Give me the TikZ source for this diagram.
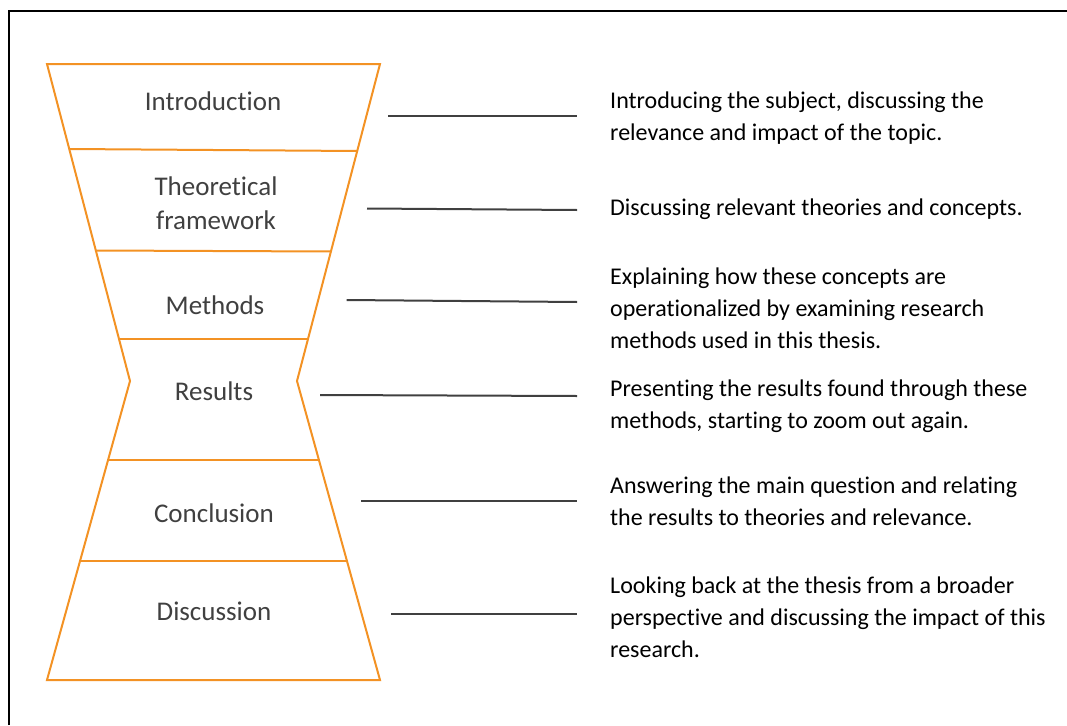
\documentclass[tikz,border=0pt]{standalone}
\usepackage{fontspec}
\setmainfont{Carlito}[Ligatures=NoCommon]
\definecolor{funnelorange}{RGB}{243,146,36}
\definecolor{stagegray}{RGB}{64,64,64}
\definecolor{linkgray}{RGB}{64,64,64}
\begin{document}
\begin{tikzpicture}[x=1pt,y=-1pt,
  funnel/.style={draw=funnelorange,line width=2pt,line join=miter},
  divider/.style={draw=funnelorange,line width=2pt},
  stage/.style={font=\fontsize{27}{34}\selectfont,text=stagegray,align=center,inner sep=0pt},
  note/.style={font=\fontsize{24}{32}\selectfont,align=left,anchor=west,inner sep=0pt},
  link/.style={draw=linkgray,line width=2pt}]
\useasboundingbox (0,0) rectangle (1067,725);

% outer frame (left and top edges)
\draw[line width=2.5pt] (9,725) -- (9,11) -- (1067,11);

% hourglass outline
\coordinate (tl) at (47,64);
\coordinate (tr) at (380,64);
\coordinate (ml) at (130,381);
\coordinate (mr) at (297,381);
\coordinate (bl) at (47,680);
\coordinate (br) at (380,680);
\draw[funnel] (tl) -- (tr) -- (mr) -- (br) -- (bl) -- (ml) -- cycle;

% section dividers
\draw[divider] (69.3,149) -- (357.2,151);
\draw[divider] (95.8,250.5) -- (330.9,251.5);
\draw[divider] (119,339) -- (308,339);
\draw[divider] (108.1,460) -- (318.9,460);
\draw[divider] (80,561) -- (347,561);

% stage labels
\node[stage] (intro) at (213,101) {Introduction};
\node[stage] (theory) at (216,203) {Theoretical\\framework};
\node[stage] (methods) at (215,305) {Methods};
\node[stage] (results) at (214,391) {Results};
\node[stage] (concl) at (214,513) {Conclusion};
\node[stage] (disc) at (214,611) {Discussion};

% descriptions
\node[note] (dintro) at (610,118) {Introducing the subject, discussing the\\relevance and impact of the topic.};
\node[note] (dtheory) at (610,209) {Discussing relevant theories and concepts.};
\node[note] (dmethods) at (610,308) {Explaining how these concepts are\\operationalized by examining research\\methods used in this thesis.};
\node[note] (dresults) at (610,406) {Presenting the results found through these\\methods, starting to zoom out again.};
\node[note] (dconcl) at (610,501) {Answering the main question and relating\\the results to theories and relevance.};
\node[note] (ddisc) at (610,617) {Looking back at the thesis from a broader\\perspective and discussing the impact of this\\research.};

% connector lines
\coordinate (a1) at (388,115.5);
\coordinate (b1) at (577,115.5);
\coordinate (a2) at (367,208.5);
\coordinate (b2) at (577,210);
\coordinate (a3) at (346.7,300);
\coordinate (b3) at (577,302);
\coordinate (a4) at (320,395);
\coordinate (b4) at (577,396);
\coordinate (a5) at (361,501);
\coordinate (b5) at (577,501);
\coordinate (a6) at (391,614);
\coordinate (b6) at (577,614);
\foreach \i in {1,...,6}{\draw[link] (a\i) -- (b\i);}
\end{tikzpicture}
\end{document}
